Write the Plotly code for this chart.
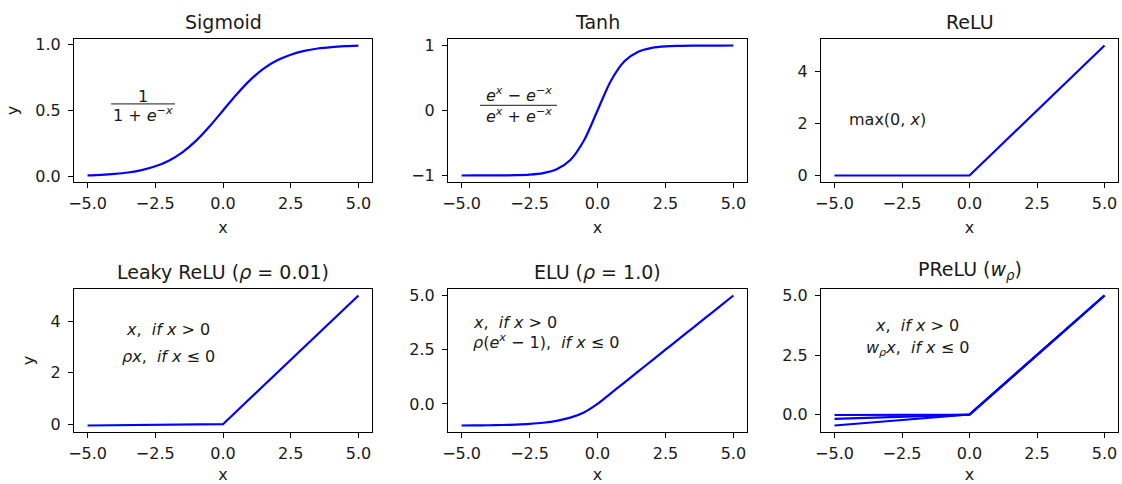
import plotly.graph_objects as go

# ---------------- data ----------------
x_smooth = [-5.0, -4.5, -4.0, -3.5, -3.0, -2.5, -2.0, -1.5, -1.0, -0.5, 0.0,
            0.5, 1.0, 1.5, 2.0, 2.5, 3.0, 3.5, 4.0, 4.5, 5.0]
sigmoid_y = [0.007, 0.011, 0.018, 0.029, 0.047, 0.076, 0.119, 0.182, 0.269, 0.378, 0.5,
             0.622, 0.731, 0.818, 0.881, 0.924, 0.953, 0.971, 0.982, 0.989, 0.993]
tanh_y = [-1.0, -0.999, -0.999, -0.998, -0.995, -0.987, -0.964, -0.905, -0.762, -0.462, 0.0,
          0.462, 0.762, 0.905, 0.964, 0.987, 0.995, 0.998, 0.999, 0.999, 1.0]
elu_y = [-0.993, -0.989, -0.982, -0.970, -0.950, -0.918, -0.865, -0.777, -0.632, -0.393, 0.0,
         0.5, 1.0, 1.5, 2.0, 2.5, 3.0, 3.5, 4.0, 4.5, 5.0]

x_kink = [-5.0, 0.0, 5.0]
relu_y = [0.0, 0.0, 5.0]
leaky_y = [-0.05, 0.0, 5.0]
prelu_ys = [[-0.02, 0.0, 5.0], [-0.18, 0.0, 5.0], [-0.46, 0.0, 5.0]]

titles = ["Sigmoid", "Tanh", "ReLU",
          "Leaky ReLU (<i>ρ</i> = 0.01)", "ELU (<i>ρ</i> = 1.0)", "PReLU (<i>w<sub>ρ</sub></i>)"]

x_ticks = [-5.0, -2.5, 0.0, 2.5, 5.0]
x_ticktext = ["−5.0", "−2.5", "0.0", "2.5", "5.0"]
y_ticks = [[0.0, 0.5, 1.0], [-1, 0, 1], [0, 2, 4], [0, 2, 4], [0.0, 2.5, 5.0], [0.0, 2.5, 5.0]]
y_ticktext = [["0.0", "0.5", "1.0"], ["−1", "0", "1"], ["0", "2", "4"], ["0", "2", "4"],
              ["0.0", "2.5", "5.0"], ["0.0", "2.5", "5.0"]]
y_ranges = [[-0.043, 1.043], [-1.1, 1.1], [-0.25, 5.25], [-0.3025, 5.2525],
            [-1.293, 5.30], [-0.733, 5.273]]

# ---------------- layout geometry ----------------
W, H = 1122, 484
col_px = [(74, 372), (448, 747), (821, 1118)]
row_px = [(39, 182), (289, 432)]
BLUE = "#0000ff"
FONT = "DejaVu Sans"
TXT = "#1a1a1a"

fig = go.Figure()


def axname(i, kind):
    return kind if i == 0 else f"{kind}{i + 1}"


series = [
    (x_smooth, [sigmoid_y], "spline"),
    (x_smooth, [tanh_y], "spline"),
    (x_kink, [relu_y], "linear"),
    (x_kink, [leaky_y], "linear"),
    (x_smooth, [elu_y], "spline"),
    (x_kink, prelu_ys, "linear"),
]

layout = {}
for i in range(6):
    r, c = divmod(i, 3)
    xs, ylist, shape = series[i]
    for ys in ylist:
        fig.add_trace(go.Scatter(
            x=xs, y=ys, mode="lines",
            line=dict(color=BLUE, width=2.2, shape=shape, smoothing=0.9 if shape == "spline" else None),
            xaxis=axname(i, "x"), yaxis=axname(i, "y"), showlegend=False, hoverinfo="skip"))
    x0, x1 = col_px[c]
    t, b = row_px[r]
    common = dict(showline=True, mirror=True, linecolor="black", linewidth=1,
                  ticks="outside", ticklen=5, tickwidth=1, tickcolor="black",
                  showgrid=False, zeroline=False, automargin=False,
                  tickfont=dict(family=FONT, size=16, color=TXT))
    layout["xaxis" if i == 0 else f"xaxis{i + 1}"] = dict(
        domain=[x0 / W, x1 / W], anchor=axname(i, "y"), range=[-5.5, 5.5],
        tickvals=x_ticks, ticktext=x_ticktext, ticklabelstandoff=2,
        title=dict(text="x", font=dict(family=FONT, size=16, color=TXT), standoff=9),
        **common)
    layout["yaxis" if i == 0 else f"yaxis{i + 1}"] = dict(
        domain=[1 - b / H, 1 - t / H], anchor=axname(i, "x"), range=y_ranges[i],
        tickvals=y_ticks[i], ticktext=y_ticktext[i], ticklabelstandoff=4,
        title=dict(text="y" if c == 0 else "", font=dict(family=FONT, size=16, color=TXT), standoff=12),
        **common)
    fig.add_annotation(text=titles[i], xref="paper", yref="paper",
                       x=(x0 + x1) / 2 / W, y=1 - (t - 4) / H, xanchor="center", yanchor="bottom",
                       showarrow=False, font=dict(family=FONT, size=19, color=TXT))

fig.update_layout(**layout)

ann_font = dict(family=FONT, size=16, color=TXT)


def note(i, x, y, text, xanchor="center"):
    fig.add_annotation(text=text, xref=axname(i, "x"), yref=axname(i, "y"), x=x, y=y,
                       xanchor=xanchor, yanchor="middle", showarrow=False, font=ann_font)


# Sigmoid fraction
note(0, -2.95, 0.61, "1")
note(0, -2.95, 0.47, "1 + <i>e</i><sup>−<i>x</i></sup>")
fig.add_shape(type="line", xref="x", yref="y", x0=-4.13, x1=-1.77, y0=0.55, y1=0.55,
              line=dict(color=TXT, width=1))
# Tanh fraction
note(1, -2.9, 0.25, "<i>e</i><sup><i>x</i></sup> − <i>e</i><sup>−<i>x</i></sup>")
note(1, -2.9, -0.07, "<i>e</i><sup><i>x</i></sup> + <i>e</i><sup>−<i>x</i></sup>")
fig.add_shape(type="line", xref="x2", yref="y2", x0=-4.32, x1=-1.49, y0=0.08, y1=0.08,
              line=dict(color=TXT, width=1))
# ReLU
note(2, -4.55, 2.15, "max(0, <i>x</i>)", xanchor="left")
# Leaky ReLU
note(3, -2.03, 3.69, "<i>x</i>,  <i>if x</i> > 0")
note(3, -2.03, 2.62, "<i>ρx</i>,  <i>if x</i> ≤ 0")
# ELU
note(4, -4.65, 3.74, "<i>x</i>,  <i>if x</i> > 0", xanchor="left")
note(4, -4.65, 2.9, "<i>ρ</i>(<i>e</i><sup><i>x</i></sup> − 1),  <i>if x</i> ≤ 0", xanchor="left")
# PReLU
note(5, -1.94, 3.74, "<i>x</i>,  <i>if x</i> > 0")
note(5, -1.94, 2.78, "<i>w<sub>ρ</sub>x</i>,  <i>if x</i> ≤ 0")

fig.update_layout(width=W, height=H, margin=dict(l=0, r=0, t=0, b=0),
                  plot_bgcolor="white", paper_bgcolor="white",
                  font=dict(family=FONT, color=TXT))

fig.write_html("out.html", config={"displayModeBar": False},
               post_script="document.body.style.margin='0';document.body.style.overflow='hidden';")
